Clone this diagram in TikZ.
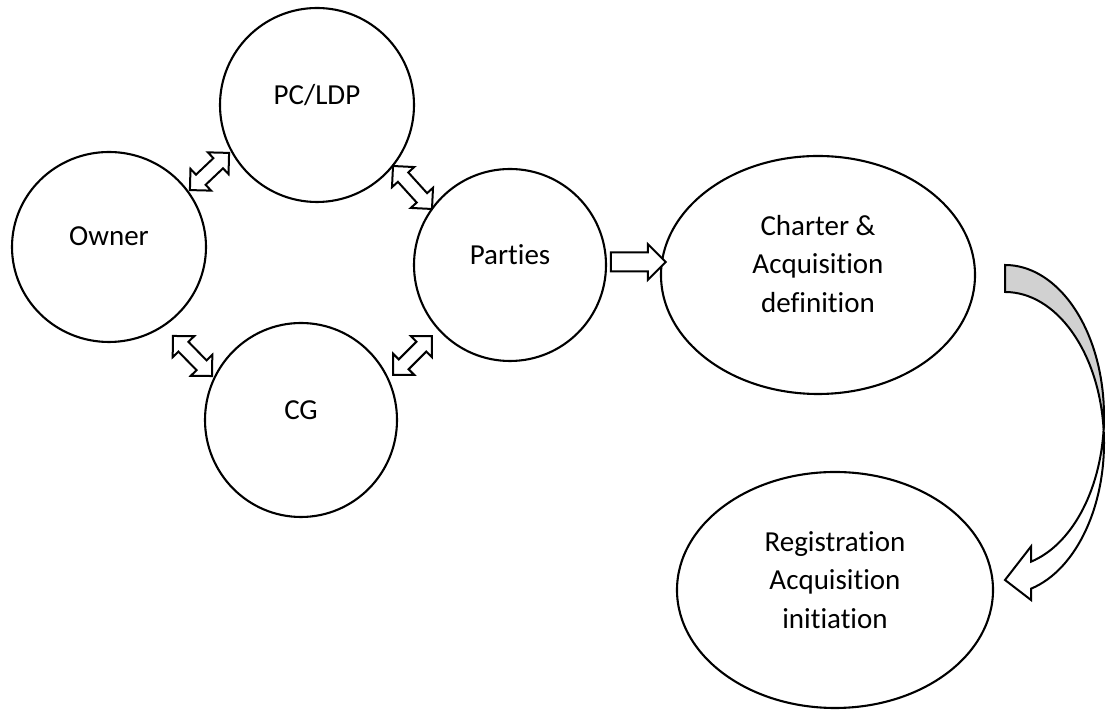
\documentclass[tikz,border=0pt]{standalone}
\usepackage{fontspec}
\setmainfont{Carlito}[Ligatures={NoCommon}]
\usetikzlibrary{shapes.geometric,shapes.arrows}
\begin{document}
\begin{tikzpicture}[x=1pt,y=1pt,
  bubble/.style={ellipse, draw=black, line width=2.1pt, inner sep=0pt, outer sep=0pt},
  lbl/.style={font=\fontsize{29}{38.5}\selectfont, align=center, inner sep=0pt},
  dblarr/.style={double arrow, draw=black, fill=white, line width=2pt, inner sep=6pt,
    double arrow head extend=8pt, double arrow tip angle=90, outer sep=0pt},
  blockarr/.style={single arrow, draw=black, fill=white, line width=2pt, inner sep=8.5pt,
    single arrow head extend=8.5pt, single arrow tip angle=90, outer sep=0pt},
  curvedpart/.style={line width=2pt, line join=miter}
]
\useasboundingbox (0,0) rectangle (1106,711);

% ellipses
\node[bubble, minimum width=194pt, minimum height=190pt] (owner) at (109,464) {};
\node[bubble, minimum width=194pt, minimum height=194pt] (pcldp) at (317,606) {};
\node[bubble, minimum width=192pt, minimum height=192pt] (parties) at (510,446) {};
\node[bubble, minimum width=192pt, minimum height=194pt] (cg) at (301,291) {};
\node[bubble, minimum width=314pt, minimum height=238pt] (charter) at (818,436) {};
\node[bubble, minimum width=316pt, minimum height=236pt] (regis) at (835,121) {};

% labels
\node[lbl] (ownerT) at ([yshift=11pt]owner.center) {Owner};
\node[lbl] (pcldpT) at ([yshift=10pt]pcldp.center) {PC/LDP};
\node[lbl] (partiesT) at ([yshift=10pt]parties.center) {Parties};
\node[lbl] (cgT) at ([yshift=10pt]cg.center) {CG};
\node[lbl] (charterT) at ([yshift=11pt]charter.center) {Charter \&\\Acquisition\\definition};
\node[lbl] (regisT) at ([yshift=10pt]regis.center) {Registration\\Acquisition\\initiation};

% double arrows
\node[dblarr, minimum height=54pt, rotate=43.5] (a1) at (209.5,539.5) {};
\node[dblarr, minimum height=58pt, rotate=-47.8] (a2) at (412.5,523.5) {};
\node[dblarr, minimum height=56pt, rotate=-45.7] (a3) at (192.5,355) {};
\node[dblarr, minimum height=55pt, rotate=45] (a4) at (412.5,355.5) {};

% block arrow Parties -> Charter
\node[blockarr, minimum height=55pt] (a5) at (633.5,449) {};

% curved arrow Charter -> Registration
\coordinate (ctop) at (1005,446);
\coordinate (ccross) at (1103.6,281.5);
\coordinate (cub) at (1031,164.5);
\coordinate (ctip) at (1005,131);
\coordinate (clb) at (1031,111);
\coordinate (clj) at (1031,122.3);
\draw[curvedpart, fill=black!18] (ctop)
  arc[start angle=90, end angle=-5.13, x radius=99, y radius=151]
  arc[start angle=5.13, end angle=90, x radius=99, y radius=151] -- cycle;
\draw[curvedpart, fill=white] (ccross)
  arc[start angle=-5.13, end angle=-74.77, x radius=99, y radius=151]
  -- (cub) -- (ctip) -- (clb) -- (clj)
  arc[start angle=-74.77, end angle=5.13, x radius=99, y radius=151] -- cycle;
\end{tikzpicture}
\end{document}
